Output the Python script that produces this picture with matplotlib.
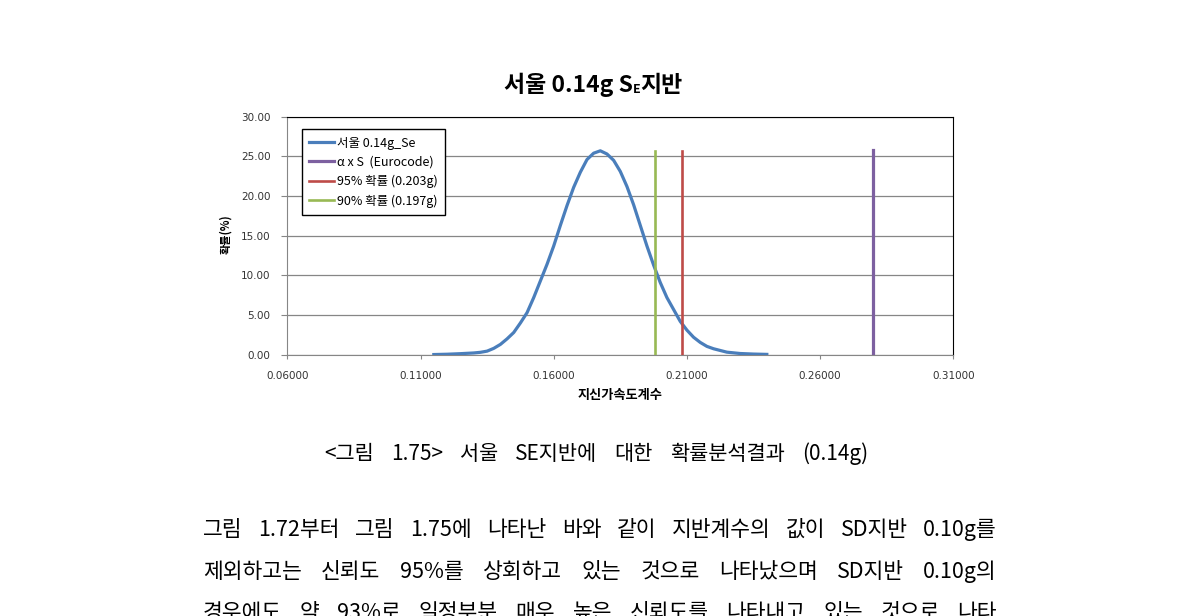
import numpy as np
import matplotlib as mpl
mpl.use('Agg')
import matplotlib.pyplot as plt
from matplotlib.ticker import FormatStrFormatter

plt.rcParams['font.family'] = ['Noto Sans CJK KR', 'DejaVu Sans']
plt.rcParams['axes.unicode_minus'] = False

# probability curve (seismic acceleration coefficient vs probability %)
accel = [0.115, 0.120, 0.125, 0.130, 0.1325, 0.135, 0.1375, 0.140, 0.1425, 0.145,
         0.1475, 0.150, 0.1525, 0.155, 0.1575, 0.160, 0.1625, 0.165, 0.1675, 0.170,
         0.1725, 0.175, 0.1775, 0.180, 0.1825, 0.185, 0.1875, 0.190, 0.1925, 0.195,
         0.1975, 0.200, 0.2025, 0.205, 0.2075, 0.210, 0.2125, 0.215, 0.2175, 0.220,
         0.225, 0.230, 0.235, 0.240]
prob = [0.02, 0.06, 0.13, 0.22, 0.30, 0.45, 0.80, 1.30, 2.00, 2.80,
        4.00, 5.30, 7.20, 9.30, 11.40, 13.70, 16.30, 18.80, 21.10, 23.00,
        24.60, 25.40, 25.70, 25.30, 24.50, 23.10, 21.20, 18.90, 16.30, 13.70,
        11.30, 9.10, 7.20, 5.70, 4.20, 3.10, 2.20, 1.55, 1.05, 0.75,
        0.32, 0.15, 0.08, 0.04]

series_labels = ['서울 0.14g_Se', 'α x S  (Eurocode)', '95% 확률 (0.203g)', '90% 확률 (0.197g)']
series_colors = ['#4A7EBB', '#7D60A0', '#BE4B48', '#98B954']
vline_x = [0.280, 0.208, 0.198]
vline_top = [25.8, 25.7, 25.7]

x_ticks = [0.06, 0.11, 0.16, 0.21, 0.26, 0.31]
y_ticks = [0, 5, 10, 15, 20, 25, 30]

# title pieces: (text, fontsize, baseline shift px) -> "서울 0.14g S_E지반"
title_parts = [('서울 0.14g S', 16.5, 0), ('E', 9, -1), ('지반', 16.5, 0)]
x_label = '지신가속도계수'
y_label = '확률(%)'

caption_words = ['<그림', '1.75>', '서울', 'SE지반에', '대한', '확률분석결과', '(0.14g)']
body_lines = [
    '그림 1.72부터 그림 1.75에 나타난 바와 같이 지반계수의 값이 SD지반 0.10g를',
    '제외하고는 신뢰도 95%를 상회하고 있는 것으로 나타났으며 SD지반 0.10g의',
    '경우에도 약 93%로 일정부분 매우 높은 신뢰도를 나타내고 있는 것으로 나타',
]

W, H = 1190, 616
fig = plt.figure(figsize=(W / 100, H / 100), dpi=100)
ax = fig.add_axes([287.3 / W, 1 - 354.7 / H, 666 / W, 238 / H])

ax.plot(accel, prob, color=series_colors[0], lw=2.3, label=series_labels[0], zorder=3)
for xv, top, lab, col, lw in zip(vline_x, vline_top, series_labels[1:], series_colors[1:], [2.3, 1.9, 1.9]):
    ax.plot([xv, xv], [0, top], color=col, lw=lw, label=lab, zorder=3)

ax.set_xlim(x_ticks[0], x_ticks[-1])
ax.set_ylim(y_ticks[0], y_ticks[-1])
ax.set_xticks(x_ticks)
ax.set_yticks(y_ticks)
ax.xaxis.set_major_formatter(FormatStrFormatter('%.5f'))
ax.yaxis.set_major_formatter(FormatStrFormatter('%.2f'))
ax.tick_params(axis='both', labelsize=7.5, labelcolor='#333333', color='#868686', direction='out')
ax.tick_params(axis='y', length=4, pad=8)
ax.tick_params(axis='x', length=3, pad=9)
for lbl in ax.get_xticklabels() + ax.get_yticklabels():
    lbl.set_fontfamily('DejaVu Sans')
ax.grid(axis='y', color='#868686', lw=0.9, zorder=1)
for s in ['left', 'bottom']:
    ax.spines[s].set_color('#868686')
for s in ['top', 'right']:
    ax.spines[s].set_color('black')

ax.set_xlabel(x_label, fontsize=9.5, fontweight='bold')
ax.xaxis.set_label_coords(0.5, -0.14)
ax.set_ylabel(y_label, fontsize=8, fontweight='bold')
ax.yaxis.set_label_coords(-0.083, 0.507)

leg = ax.legend(loc='upper left', bbox_to_anchor=(0.0216, 0.948), borderaxespad=0,
                fontsize=9, handlelength=2.0, handletextpad=0.2, labelspacing=0.5,
                borderpad=0.6, fancybox=False, framealpha=1, edgecolor='black')
leg.get_frame().set_linewidth(1.0)

renderer = fig.canvas.get_renderer()

# title, laid out piece by piece so the E sits as a small subscript
parts = [fig.text(0, 1 - (92 - dy) / H, s, fontsize=fs, fontweight='bold', ha='left', va='baseline')
         for s, fs, dy in title_parts]
widths = [t.get_window_extent(renderer).width for t in parts]
x = 593 - sum(widths) / 2
for t, w in zip(parts, widths):
    t.set_x(x / W)
    x += w


def justify(words, x0, x1, y, size):
    texts = [fig.text(0, 1 - y / H, w, fontsize=size, ha='left', va='center') for w in words]
    widths = [t.get_window_extent(renderer).width for t in texts]
    gap = (x1 - x0 - sum(widths)) / (len(words) - 1)
    x = x0
    for t, w in zip(texts, widths):
        t.set_x(x / W)
        x += w + gap


justify(caption_words, 324, 868, 454, 15)
for line, y in zip(body_lines, [530, 572, 613]):
    justify(line.split(), 203, 997, y, 15.5)

fig.savefig('out.png', dpi=100)
